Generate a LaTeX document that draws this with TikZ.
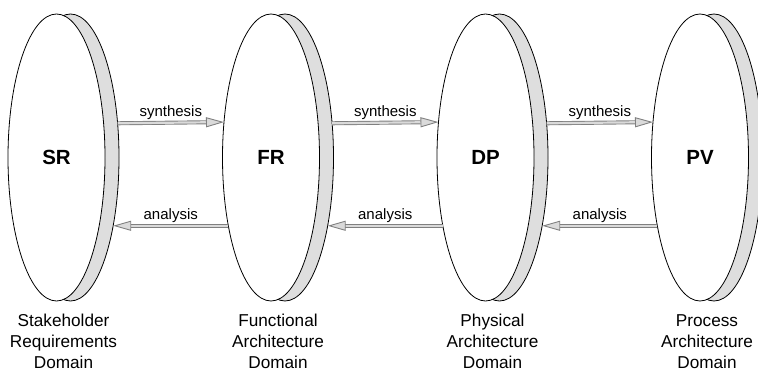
\documentclass[tikz,border=0pt]{standalone}
\usepackage{fontspec}
\setmainfont{Liberation Sans}
\usetikzlibrary{shapes.geometric,arrows.meta}
\definecolor{rim}{RGB}{222,222,222}
\definecolor{flowedge}{RGB}{128,128,128}
\definecolor{flowfill}{RGB}{218,218,218}
\begin{document}
\begin{tikzpicture}[x=1pt,y=1pt,
  disc/.style={ellipse, draw=black, line width=0.8pt, minimum width=97pt,
    minimum height=287pt, inner sep=0pt, outer sep=0pt},
  backdisc/.style={disc, fill=rim},
  frontdisc/.style={disc, fill=white, font=\fontsize{20.5}{24}\selectfont\bfseries},
  flow/.style={draw=flowedge, line width=0.9pt, double=flowfill, double distance=2.2pt,
    -{Triangle[length=18pt, width=10pt, fill=flowfill]}},
  flowlabel/.style={anchor=base, yshift=6.5pt, inner sep=0pt, font=\fontsize{15}{18}\selectfont},
  % anchor=base of a multi-line node sits on its last line
  domainlabel/.style={anchor=base, align=center, inner sep=0pt, font=\fontsize{17.2}{21}\selectfont}
]
\useasboundingbox (0,0) rectangle (758,372);

% discs: a shaded rim behind a white face
\foreach \name/\cx in {SR/56.5, FR/271, DP/485.5, PV/700} {
  \node[backdisc] (\name b) at (\cx+14,214.5) {};
}
\node[frontdisc] (SR) at (56.5,214.5) {SR};
\node[frontdisc] (FR) at (271,214.5) {FR};
\node[frontdisc] (DP) at (485.5,214.5) {DP};
\node[frontdisc] (PV) at (700,214.5) {PV};

% synthesis (upper) and analysis (lower) flows between neighbouring domains
\draw[flow] (SRb.36.23) -- (FR.143.77) node[midway, flowlabel] {synthesis};
\draw[flow] (FRb.36.23) -- (DP.143.77) node[midway, flowlabel] {synthesis};
\draw[flow] (DPb.36.23) -- (PV.143.77) node[midway, flowlabel] {synthesis};
\draw[flow] (FR.238.1) -- (SRb.-58.1) node[midway, flowlabel] {analysis};
\draw[flow] (DP.238.1) -- (FRb.-58.1) node[midway, flowlabel] {analysis};
\draw[flow] (PV.238.1) -- (DPb.-58.1) node[midway, flowlabel] {analysis};

% domain names
\node[domainlabel] (SRname) at (63.5,3) {Stakeholder\\Requirements\\Domain};
\node[domainlabel] (FRname) at (278,3) {Functional\\Architecture\\Domain};
\node[domainlabel] (DPname) at (492.5,3) {Physical\\Architecture\\Domain};
\node[domainlabel] (PVname) at (707,3) {Process\\Architecture\\Domain};
\end{tikzpicture}
\end{document}
